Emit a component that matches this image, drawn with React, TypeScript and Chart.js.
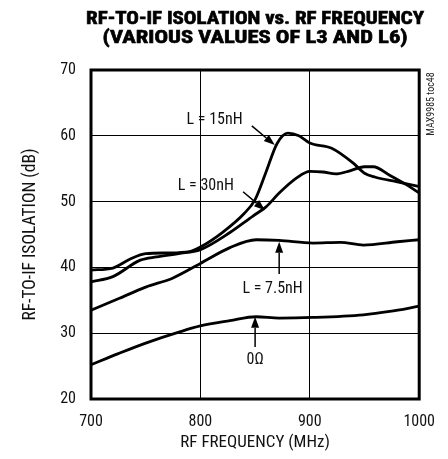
import React, { useEffect, useRef } from 'react';
import { Chart, registerables } from 'chart.js';

Chart.register(...registerables);

const FONT = "'Roboto Condensed', 'DejaVu Sans Condensed', sans-serif";

// Data (frequency in MHz, isolation in dB)
const freq15 = [700, 720, 735, 750, 770, 790, 800, 820, 840, 850, 860, 870, 880, 890, 900, 920, 940, 950, 960, 980, 1000];
const iso15 = [39.6, 39.9, 41.2, 42.1, 42.2, 42.4, 43.1, 45.3, 48.2, 50.3, 54.5, 58.8, 60.4, 60.0, 58.9, 58.1, 55.8, 54.3, 53.7, 53.0, 52.3];

const freq30 = [700, 720, 745, 760, 780, 800, 827, 848, 860, 872, 888, 900, 912, 924, 935, 950, 958, 973, 989, 1000];
const iso30 = [37.8, 38.6, 41.1, 41.6, 42.1, 42.7, 45.3, 47.8, 49.2, 51.3, 53.6, 54.6, 54.5, 54.2, 54.6, 55.3, 55.3, 54.0, 52.5, 51.3];

const freq75 = [700, 726, 750, 775, 800, 827, 851, 872, 903, 928, 949, 980, 1000];
const iso75 = [33.5, 35.3, 37.0, 38.4, 40.6, 43.0, 44.2, 44.1, 43.7, 43.8, 43.4, 43.9, 44.2];

const freq0 = [700, 725, 750, 781, 800, 827, 851, 872, 903, 949, 973, 1000];
const iso0 = [25.2, 26.9, 28.5, 30.2, 31.1, 31.9, 32.5, 32.3, 32.4, 32.8, 33.3, 34.1];

const seriesNames = ['L = 15nH', 'L = 30nH', 'L = 7.5nH', '0Ω'];

// Annotation labels (data coordinates)
const labelText = ['L = 15nH', 'L = 30nH', 'L = 7.5nH', '0Ω'];
const labelX = [813, 805, 866, 850];
const labelY = [62.4, 52.4, 36.7, 25.9];
// Arrows: tail -> head (data coordinates)
const arrowX1 = [847, 839, 872, 850];
const arrowY1 = [61.5, 51.5, 39.0, 27.9];
const arrowX2 = [868, 859, 872, 850];
const arrowY2 = [58.6, 48.7, 43.9, 32.5];

const titleLines = ['RF-TO-IF ISOLATION vs. RF FREQUENCY', '(VARIOUS VALUES OF L3 AND L6)'];
const xTitle = 'RF FREQUENCY (MHz)';
const yTitle = 'RF-TO-IF ISOLATION (dB)';
const tagText = 'MAX9985 toc48';

const toPts = (xs: number[], ys: number[]) => xs.map((x, i) => ({ x, y: ys[i] }));

const overlayPlugin = {
  id: 'overlay',
  afterDraw(chart: any) {
    const { ctx, chartArea, scales } = chart;
    const xs = scales.x;
    const ys = scales.y;
    ctx.save();
    // frame
    ctx.strokeStyle = '#000';
    ctx.lineWidth = 3;
    ctx.strokeRect(chartArea.left, chartArea.top, chartArea.right - chartArea.left, chartArea.bottom - chartArea.top);

    // title (condensed heavy face, each line fitted to the original width)
    const cx = (chartArea.left + chartArea.right) / 2;
    ctx.fillStyle = '#000';
    ctx.strokeStyle = '#000';
    ctx.lineWidth = 0.6;
    ctx.textAlign = 'center';
    ctx.textBaseline = 'alphabetic';
    ctx.font = `bold 17.5px ${FONT}`;
    const lineW = [338, 305];
    const lineY = [24, 43];
    for (let i = 0; i < titleLines.length; i++) {
      const sx = lineW[i] / ctx.measureText(titleLines[i]).width;
      ctx.save();
      ctx.translate(cx, lineY[i]);
      ctx.scale(sx, 1);
      ctx.fillText(titleLines[i], 0, 0);
      ctx.strokeText(titleLines[i], 0, 0);
      ctx.restore();
    }

    // labels
    ctx.textBaseline = 'middle';
    ctx.font = `16px ${FONT}`;
    ctx.fillStyle = '#111';
    for (let i = 0; i < labelText.length; i++) {
      ctx.fillText(labelText[i], xs.getPixelForValue(labelX[i]), ys.getPixelForValue(labelY[i]));
    }

    // arrows
    ctx.strokeStyle = '#000';
    ctx.fillStyle = '#000';
    for (let i = 0; i < arrowX1.length; i++) {
      const x1 = xs.getPixelForValue(arrowX1[i]);
      const y1 = ys.getPixelForValue(arrowY1[i]);
      const x2 = xs.getPixelForValue(arrowX2[i]);
      const y2 = ys.getPixelForValue(arrowY2[i]);
      const ang = Math.atan2(y2 - y1, x2 - x1);
      const hl = 11;
      const hw = 4;
      const bx = x2 - hl * Math.cos(ang);
      const by = y2 - hl * Math.sin(ang);
      ctx.lineWidth = 1.5;
      ctx.beginPath();
      ctx.moveTo(x1, y1);
      ctx.lineTo(bx, by);
      ctx.stroke();
      ctx.beginPath();
      ctx.moveTo(x2, y2);
      ctx.lineTo(bx + hw * Math.sin(ang), by - hw * Math.cos(ang));
      ctx.lineTo(bx - hw * Math.sin(ang), by + hw * Math.cos(ang));
      ctx.closePath();
      ctx.fill();
    }

    // rotated tag
    ctx.save();
    ctx.translate(431, 104);
    ctx.rotate(-Math.PI / 2);
    ctx.font = `10px ${FONT}`;
    ctx.fillStyle = '#222';
    ctx.fillText(tagText, 0, 0);
    ctx.restore();

    ctx.restore();
  },
};

export default function App() {
  const ref = useRef<HTMLCanvasElement | null>(null);
  useEffect(() => {
    if (!ref.current) return;
    const mk = (label: string, xs: number[], ys: number[]) => ({
      label,
      data: toPts(xs, ys),
      borderColor: '#000',
      borderWidth: 2.8,
      pointRadius: 0,
      cubicInterpolationMode: 'monotone' as const,
      fill: false,
    });
    const chart = new Chart(ref.current, {
      type: 'line',
      data: {
        datasets: [
          mk(seriesNames[0], freq15, iso15),
          mk(seriesNames[1], freq30, iso30),
          mk(seriesNames[2], freq75, iso75),
          mk(seriesNames[3], freq0, iso0),
        ],
      },
      options: {
        responsive: false,
        animation: false,
        layout: { padding: { left: 0, right: 27, top: 70, bottom: 0 } },
        plugins: { legend: { display: false }, title: { display: false }, tooltip: { enabled: false } },
        scales: {
          x: {
            type: 'linear',
            min: 700,
            max: 1000,
            ticks: { stepSize: 100, color: '#111', font: { family: FONT, size: 16 }, padding: 13, maxRotation: 0, callback: (v: any) => String(v) },
            grid: { color: '#000', lineWidth: 1, drawTicks: false },
            border: { display: false },
            title: { display: true, text: xTitle, color: '#111', font: { family: FONT, size: 17 }, padding: { top: 0, bottom: 6 } },
            afterFit: (s: any) => { s.height = 60; },
          },
          y: {
            min: 20,
            max: 70,
            ticks: { stepSize: 10, color: '#111', font: { family: FONT, size: 16 }, padding: 15 },
            grid: { color: '#000', lineWidth: 1, drawTicks: false },
            border: { display: false },
            title: { display: true, text: yTitle, color: '#111', font: { family: FONT, size: 17.5 }, padding: { top: 20, bottom: 0 } },
            afterFit: (s: any) => { s.width = 91; },
          },
        },
      },
      plugins: [overlayPlugin],
    });
    return () => chart.destroy();
  }, []);
  return (
    <div style={{ position: 'fixed', left: 0, top: 0, width: 448, height: 459, background: '#fff' }}>
      <canvas ref={ref} width={448} height={459} style={{ width: 448, height: 459 }} />
    </div>
  );
}
